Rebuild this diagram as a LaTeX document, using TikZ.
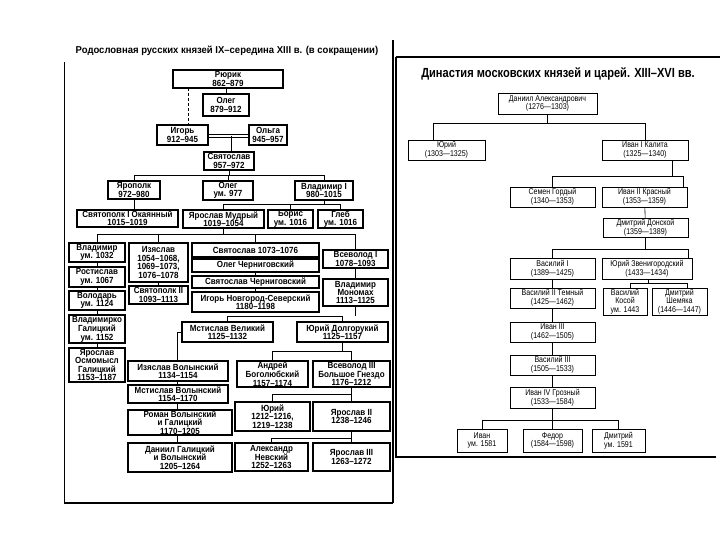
\documentclass[tikz,border=0pt]{standalone}
\usepackage{fontspec}
\newfontfamily\lfont[FakeStretch=0.9]{Liberation Sans}
\newfontfamily\ltfont[FakeStretch=0.95]{Liberation Sans}
\newfontfamily\rfont[FakeStretch=0.84]{Liberation Sans}
\newfontfamily\rtfont[FakeStretch=0.84]{Liberation Sans}
\usetikzlibrary{calc}
\tikzset{
  lbox/.style={draw=black, line width=1.1pt, inner sep=0pt, outer sep=0pt, align=center,
    font=\lfont\bfseries\fontsize{8.9}{8.4}\selectfont},
  rbox/.style={draw=black, line width=0.8pt, inner sep=0pt, outer sep=0pt, align=center,
    font=\rfont\fontsize{8.4}{8.6}\selectfont},
  lline/.style={line width=0.9pt},
  rline/.style={line width=0.6pt},
  frame/.style={line width=2pt},
}
\newcommand\bx[7]{\node[#1, anchor=north west, minimum width={(#5-#3)*1pt}, minimum height={(#6-#4)*1pt}] (#2) at (#3,#4) {#7};}
\begin{document}
\begin{tikzpicture}[x=1pt,y=-1pt]
\path[use as bounding box, fill=white] (0,0) rectangle (720,540);

% frames
\draw[line width=1pt] (64,62) -- (64,503);
\draw[frame] (64,503) -- (393,503);
\draw[frame] (393,40) -- (393,503);
\draw[frame] (396,57) -- (720,57);
\draw[frame] (396,57) -- (396,457) -- (716,457);

% titles
\node[font=\ltfont\bfseries\fontsize{10}{10}\selectfont, inner sep=0pt] (ltitle) at (227,51) {Родословная русских князей IX–середина XIII в. (в сокращении)};
\node[font=\rtfont\bfseries\fontsize{13.2}{13.2}\selectfont, inner sep=0pt] (rtitle) at (558,74) {Династия московских князей и царей. XIII–XVI вв.};

% left boxes
\bx{lbox}{rurik}{173}{70}{283}{88}{Рюрик\\862–879}
\bx{lbox}{oleg1}{203}{94}{249}{116}{Олег\\879–912}
\bx{lbox}{igor}{157}{125}{208}{145}{Игорь\\912–945}
\bx{lbox}{olga}{249}{125}{287}{145}{Ольга\\945–957}
\bx{lbox}{svyat}{204}{152}{254}{170}{Святослав\\957–972}
\bx{lbox}{yaropolk}{108}{181}{160}{199}{Ярополк\\972–980}
\bx{lbox}{oleg2}{203}{181}{253}{200}{Олег\\ум. 977}
\bx{lbox}{vlad1}{295}{181}{353}{200}{Владимир I\\980–1015}
\bx{lbox}{svpolk1}{77}{210}{178}{227}{Святополк I Окаянный\\1015–1019}
\bx{lbox}{yarmud}{183}{210}{264}{228}{Ярослав Мудрый\\1019–1054}
\bx{lbox}{boris}{268}{210}{313}{228}{Борис\\ум. 1016}
\bx{lbox}{gleb}{318}{210}{363}{228}{Глеб\\ум. 1016}
\bx{lbox}{vlad1032}{69}{243}{125}{262}{Владимир\\ум. 1032}
\bx{lbox}{rost}{69}{267}{125}{287}{Ростислав\\ум. 1067}
\bx{lbox}{volod}{69}{291}{125}{310}{Володарь\\ум. 1124}
\bx{lbox}{vladko}{69}{315}{125}{343}{Владимирко\\Галицкий\\ум. 1152}
\bx{lbox}{yarosm}{69}{348}{125}{382}{Ярослав\\Осмомысл\\Галицкий\\1153–1187}
\bx{lbox}{izya}{129}{243}{188}{282}{Изяслав\\1054–1068,\\1069–1073,\\1076–1078}
\bx{lbox}{svpolk2}{129}{286}{188}{304}{Святополк II\\1093–1113}
\bx{lbox}{svy1073}{192}{243}{319}{257}{Святослав 1073–1076}
\bx{lbox}{olegch}{192}{259}{319}{272}{Олег Черниговский}
\bx{lbox}{svych}{192}{276}{319}{288}{Святослав Черниговский}
\bx{lbox}{igorns}{192}{292}{319}{312}{Игорь Новгород-Северский\\1180–1198}
\bx{lbox}{vsev1}{323}{250}{388}{268}{Всеволод I\\1078–1093}
\bx{lbox}{monom}{323}{279}{388}{306}{Владимир\\Мономах\\1113–1125}
\bx{lbox}{mstvel}{182}{322}{273}{342}{Мстислав Великий\\1125–1132}
\bx{lbox}{yudolg}{297}{322}{388}{342}{Юрий Долгорукий\\1125–1157}
\bx{lbox}{izyavol}{128}{361}{228}{381}{Изяслав Волынский\\1134–1154}
\bx{lbox}{andrey}{237}{361}{308}{387}{Андрей\\Боголюбский\\1157–1174}
\bx{lbox}{vsev3}{313}{361}{390}{387}{Всеволод III\\Большое Гнездо\\1176–1212}
\bx{lbox}{mstvol}{128}{385}{228}{403}{Мстислав Волынский\\1154–1170}
\bx{lbox}{yuri2}{235}{402}{310}{431}{Юрий\\1212–1216,\\1219–1238}
\bx{lbox}{yar2}{313}{402}{390}{431}{Ярослав II\\1238–1246}
\bx{lbox}{roman}{128}{410}{232}{435}{Роман Волынский\\и Галицкий\\1170–1205}
\bx{lbox}{daniil}{128}{443}{232}{472}{Даниил Галицкий\\и Волынский\\1205–1264}
\bx{lbox}{alex}{235}{443}{308}{471}{Александр\\Невский\\1252–1263}
\bx{lbox}{yar3}{313}{443}{390}{471}{Ярослав III\\1263–1272}

% left connectors
\draw[lline] (rurik.south -| oleg1.north) -- (oleg1.north);
\coordinate (dx) at (188,0);
\draw[lline, dash pattern=on 3pt off 2pt] (dx |- rurik.south) -- (dx |- igor.north);
\coordinate (m1) at (0,134);
\coordinate (m2) at (0,137.5);
\draw[lline] (igor.east |- m1) -- (olga.west |- m1);
\draw[lline] (igor.east |- m2) -- (olga.west |- m2);
\coordinate (sx) at (231,135.75);
\draw[lline] (sx) -- (sx |- svyat.north);
\coordinate (b1) at (0,175);
\draw[lline] (svyat.south) -- (svyat.south |- b1);
\draw[lline] (yaropolk.north) -- (yaropolk.north |- b1) -- (vlad1.north |- b1) -- (vlad1.north);
\draw[lline] (oleg2.north) -- (oleg2.north |- b1);
\draw[lline] (yaropolk.south) -- (yaropolk.south |- svpolk1.north);
\coordinate (b2) at (0,204);
\draw[lline] (vlad1.south) -- (vlad1.south |- b2);
\draw[lline] (yarmud.north) -- (yarmud.north |- b2) -- (gleb.north |- b2) -- (gleb.north);
\draw[lline] (boris.north) -- (boris.north |- b2);
\coordinate (b3) at (0,234);
\draw[lline] (yarmud.south) -- (yarmud.south |- b3);
\draw[lline] (vlad1032.north) -- (vlad1032.north |- b3) -- (vsev1.north |- b3) -- (vsev1.north);
\draw[lline] (izya.north) -- (izya.north |- b3);
\draw[lline] (svy1073.north) -- (svy1073.north |- b3);
\draw[lline] (vlad1032) -- (rost) (rost) -- (volod) (volod) -- (vladko) (vladko) -- (yarosm);
\draw[lline] (izya) -- (svpolk2);
\draw[lline] (svy1073) -- (olegch) (olegch) -- (svych) (svych) -- (igorns);
\draw[lline] (vsev1) -- (monom);
\coordinate (b4) at (0,316);
\draw[lline] (monom.south) -- (monom.south |- b4);
\draw[lline] (mstvel.north) -- (mstvel.north |- b4) -- (yudolg.north |- b4) -- (yudolg.north);
\coordinate (cx) at (177,0);
\draw[lline] (mstvel.west) -- (mstvel.west -| cx) -- (cx |- izyavol.north);
\draw[lline] (cx |- izyavol.south) -- (cx |- mstvol.north) (cx |- mstvol.south) -- (cx |- roman.north) (cx |- roman.south) -- (cx |- daniil.north);
\coordinate (b5) at (0,351);
\draw[lline] (yudolg.south) -- (yudolg.south |- b5);
\draw[lline] (andrey.north) -- (andrey.north |- b5) -- (vsev3.north |- b5) -- (vsev3.north);
\coordinate (b6) at (0,394);
\draw[lline] (vsev3.south) -- (vsev3.south |- b6);
\draw[lline] (yuri2.north) -- (yuri2.north |- b6) -- (yar2.north |- b6) -- (yar2.north);
\coordinate (b7) at (0,438);
\draw[lline] (yar2.south) -- (yar2.south |- b7);
\draw[lline] (alex.north) -- (alex.north |- b7) -- (yar3.north |- b7) -- (yar3.north);

% right boxes
\bx{rbox}{daniilA}{498}{93}{597}{114}{Даниил Александрович\\(1276—1303)}
\bx{rbox}{yuriR}{408}{140}{485}{160}{Юрий\\(1303—1325)}
\bx{rbox}{ivan1}{602}{140}{688}{160}{Иван I Калита\\(1325—1340)}
\bx{rbox}{semen}{510}{187}{595}{207}{Семен Гордый\\(1340—1353)}
\bx{rbox}{ivan2}{602}{187}{687}{207}{Иван II Красный\\(1353—1359)}
\bx{rbox}{dmdon}{603}{218}{688}{237}{Дмитрий Донской\\(1359—1389)}
\bx{rbox}{vas1}{510}{258}{595}{279}{Василий I\\(1389—1425)}
\bx{rbox}{yuzv}{602}{258}{692}{279}{Юрий Звенигородский\\(1433—1434)}
\bx{rbox}{vas2}{510}{288}{595}{308}{Василий II Темный\\(1425—1462)}
\bx{rbox}{vaskos}{603}{288}{647}{315}{Василий\\Косой\\ум. 1443}
\bx{rbox}{dmshem}{652}{288}{707}{315}{Дмитрий\\Шемяка\\(1446—1447)}
\bx{rbox}{ivan3}{510}{322}{595}{342}{Иван III\\(1462—1505)}
\bx{rbox}{vas3}{510}{355}{595}{375}{Василий III\\(1505—1533)}
\bx{rbox}{ivan4}{510}{387}{595}{408}{Иван IV Грозный\\(1533—1584)}
\bx{rbox}{ivanR}{457}{429}{507}{452}{Иван\\ум. 1581}
\bx{rbox}{fedor}{523}{429}{582}{452}{Федор\\(1584—1598)}
\bx{rbox}{dmitR}{592}{429}{645}{452}{Дмитрий\\ум. 1591}

% right connectors
\coordinate (rb1) at (0,123);
\coordinate (ry) at (433,0);
\draw[rline] (daniilA.south) -- (daniilA.south |- rb1);
\draw[rline] (ry |- yuriR.north) -- (ry |- rb1) -- (ivan1.north |- rb1) -- (ivan1.north);
\coordinate (rb2) at (0,176);
\coordinate (ri1) at (672,0);
\coordinate (ri2) at (683,0);
\draw[rline] (ri1 |- ivan1.south) -- (ri1 |- rb2);
\draw[rline] (semen.north) -- (semen.north |- rb2) -- (ri2 |- rb2) -- (ri2 |- ivan2.north);
\draw[rline] (ivan2) -- (dmdon);
\coordinate (rb3) at (0,249);
\coordinate (rz) at (688,0);
\draw[rline] (dmdon.south) -- (dmdon.south |- rb3);
\draw[rline] (vas1.north) -- (vas1.north |- rb3) -- (rz |- rb3) -- (rz |- yuzv.north);
\draw[rline] (vas1) -- (vas2) (vas2) -- (ivan3) (ivan3) -- (vas3) (vas3) -- (ivan4);
\coordinate (rb4) at (0,283);
\coordinate (rzz) at (648,0);
\coordinate (rk) at (630,0);
\coordinate (rs) at (687,0);
\draw[rline] (rzz |- yuzv.south) -- (rzz |- rb4);
\draw[rline] (rk |- vaskos.north) -- (rk |- rb4) -- (rs |- rb4) -- (rs |- dmshem.north);
\coordinate (rb5) at (0,420);
\draw[rline] (ivan4.south) -- (ivan4.south |- rb5);
\draw[rline] (ivanR.north) -- (ivanR.north |- rb5) -- (dmitR.north |- rb5) -- (dmitR.north);
\draw[rline] (fedor.north) -- (fedor.north |- rb5);
\end{tikzpicture}
\end{document}
